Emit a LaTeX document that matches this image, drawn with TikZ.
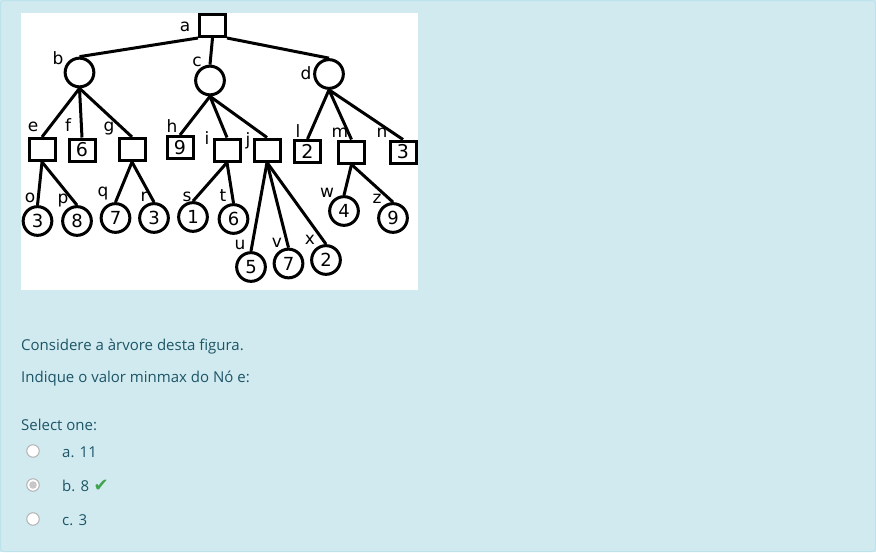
\documentclass[tikz,border=0pt]{standalone}
\usepackage{fontspec}
\setmainfont{Open Sans}
\newfontfamily\treefont{DejaVu Sans}
\definecolor{panel}{HTML}{D0EAF0}
\definecolor{panelline}{HTML}{BCE3EB}
\definecolor{qtextcol}{HTML}{1D5566}
\definecolor{okgreen}{HTML}{3FA34D}
\tikzset{
  maxnode/.style={draw, line width=3pt, minimum width=26pt, minimum height=22pt,
    inner sep=0pt, font=\treefont\fontsize{19}{19}\selectfont},
  minnode/.style={draw, circle, line width=3pt, minimum size=28.7pt, inner sep=0pt,
    font=\treefont\fontsize{18}{18}\selectfont},
  lab/.style={inner sep=0pt, font=\treefont\fontsize{17}{17}\selectfont},
  edge/.style={line width=3pt},
  qtext/.style={anchor=base west, inner sep=0pt, text=qtextcol,
    font=\fontsize{15}{18}\selectfont},
  radio/.style={draw=black!30, fill=white, circle, line width=1pt, minimum size=12.5pt, inner sep=0pt}
}
\begin{document}
\begin{tikzpicture}[x=1pt,y=-1pt]
\useasboundingbox (0,0) rectangle (876,552);
\fill[panel] (0,0) rectangle (876,552);
\draw[panelline, line width=1pt, rounded corners=3pt] (0.5,0.5) rectangle (875.5,551.5);
\fill[white] (21,13) rectangle (418,290);

% tree
\node[maxnode] (a) at (212.5,25.5) {};
\node[minnode] (b) at (79.5,72.5) {};
\node[minnode] (c) at (210,80.5) {};
\node[minnode] (d) at (329,74) {};
\foreach \n/\x/\y/\v in {e/42/149.5/, f/82/150/6, g/132/149.5/, h/180/147.5/9,
  i/227/150/, j/267/150/, l/307.5/151.5/2, m/351.5/152/, n/403/152/3}
  \node[maxnode] (\n) at (\x,\y) {\v};
\foreach \n/\x/\y/\v in {o/37.5/221/3, p/77/221/8, q/115.5/218/7, r/154/218/3,
  s/193/217/1, t/233.5/219/6, u/251/267/5, v/288.5/263.5/7, x/326/260/2,
  w/344/211/4, z/393/218/9}
  \node[minnode] (\n) at (\x,\y) {\v};

\draw[edge] (a.south west) -- (b.north);
\draw[edge] (a.south) -- (c.north);
\draw[edge] (a.south east) -- (d.north);
\foreach \p/\c in {b/e, b/f, b/g, c/h, c/i, c/j, d/l, d/m, d/n,
  e/o, e/p, g/q, g/r, i/s, i/t, j/u, j/v, j/x, m/w, m/z}
  \draw[edge] (\p.south) -- (\c.north);

\foreach \n/\x/\y in {a/185/27, b/58/58, c/197/62, d/306/73, e/33/127, f/68/125,
  g/109/129, h/172/126, i/207/138, j/248/141, l/298/131, m/340/133, n/382/133,
  o/30/198, p/63/201, q/103/194, r/144/197, s/187/197, t/223/196, u/240/245,
  v/277/243, w/327/193, z/377/199, x/310/240}
  \node[lab] (lab\n) at (\x,\y) {\n};

% question
\node[qtext] (q1) at (21,350) {Considere a àrvore desta figura.};
\node[qtext] (q2) at (21,382) {Indique o valor minmax do Nó e:};
\node[qtext] (sel) at (21,430) {Select one:};

\node[radio] (ra) at (33,451) {};
\node[radio] (rb) at (33,485) {};
\node[radio] (rc) at (33,519) {};
\fill[black!22] (rb) circle (3.8pt);

\node[qtext] (opta) at (62,457) {a. 11};
\node[qtext] (optb) at (62,491) {b. 8};
\node[qtext] (optc) at (62,525) {c. 3};
\node[anchor=base west, inner sep=0pt, text=okgreen, font=\treefont\fontsize{18}{18}\selectfont]
  (chk) at ([xshift=4pt]optb.base east) {✔};
\end{tikzpicture}
\end{document}
